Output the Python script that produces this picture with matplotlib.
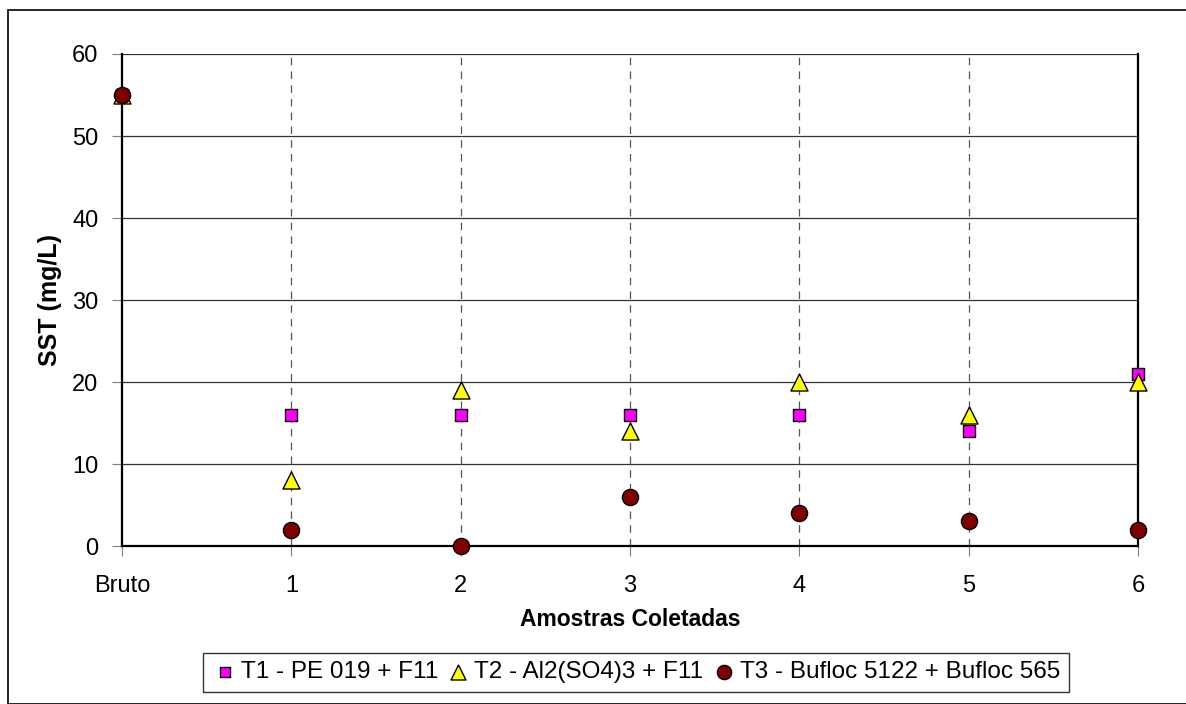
import matplotlib.pyplot as plt
from matplotlib.patches import Rectangle

plt.rcParams['font.family'] = ['Liberation Sans', 'DejaVu Sans']

categories = ['Bruto', '1', '2', '3', '4', '5', '6']
t1 = [55, 16, 16, 16, 16, 14, 21]
t2 = [55, 8, 19, 14, 20, 16, 20]
t3 = [55, 2, 0, 6, 4, 3, 2]
labels = ['T1 - PE 019 + F11', 'T2 - Al2(SO4)3 + F11', 'T3 - Bufloc 5122 + Bufloc 565']

fig = plt.figure(figsize=(11.86, 7.04), dpi=100)
ax = fig.add_axes([0.1029, 0.2244, 0.8566, 0.6989])

x = list(range(len(categories)))
ax.scatter(x, t1, marker='s', s=75, c='#ff00ff', edgecolors='black', linewidths=1, zorder=3, label=labels[0], clip_on=False)
ax.scatter(x, t2, marker='^', s=150, c='#ffff00', edgecolors='black', linewidths=1, zorder=4, label=labels[1], clip_on=False)
ax.scatter(x, t3, marker='o', s=135, c='#800000', edgecolors='black', linewidths=1, zorder=5, label=labels[2], clip_on=False)

ax.set_xlim(0, 6)
ax.set_ylim(0, 60)
ax.set_xticks(x)
ax.set_xticklabels(categories)
ax.set_yticks(range(0, 61, 10))
ax.tick_params(axis='both', labelsize=17, direction='out', length=7, color='#808080')
ax.tick_params(axis='x', pad=14)
ax.tick_params(axis='y', pad=10)

for yv in range(10, 61, 10):
    ax.axhline(yv, color='#333333', lw=0.9, zorder=1)
for xv in x[1:-1]:
    ax.axvline(xv, color='#555555', lw=0.9, ls=(0, (6, 5)), zorder=1)

ax.spines['top'].set_visible(False)
ax.spines['right'].set_linewidth(1.6)
ax.spines['left'].set_linewidth(1.6)
ax.spines['bottom'].set_linewidth(1.6)

ax.set_ylabel('SST (mg/L)', fontsize=18, fontweight='bold', labelpad=7)
ax.set_xlabel('Amostras Coletadas', fontsize=16.5, fontweight='bold', labelpad=8)

leg = fig.legend(loc='center', bbox_to_anchor=(0.536, 0.045), ncol=3, fontsize=17.5,
                 frameon=True, fancybox=False, edgecolor='black', handletextpad=0.1,
                 columnspacing=0.3, borderpad=0.35, borderaxespad=0, handlelength=1.1,
                 markerscale=0.88)
leg.get_frame().set_linewidth(1)

fig.patches.append(Rectangle((8 / 1186, 0), 1, 1 - 10 / 704, transform=fig.transFigure,
                             fill=False, edgecolor='black', lw=1.2))

fig.savefig('out.png', dpi=100)
